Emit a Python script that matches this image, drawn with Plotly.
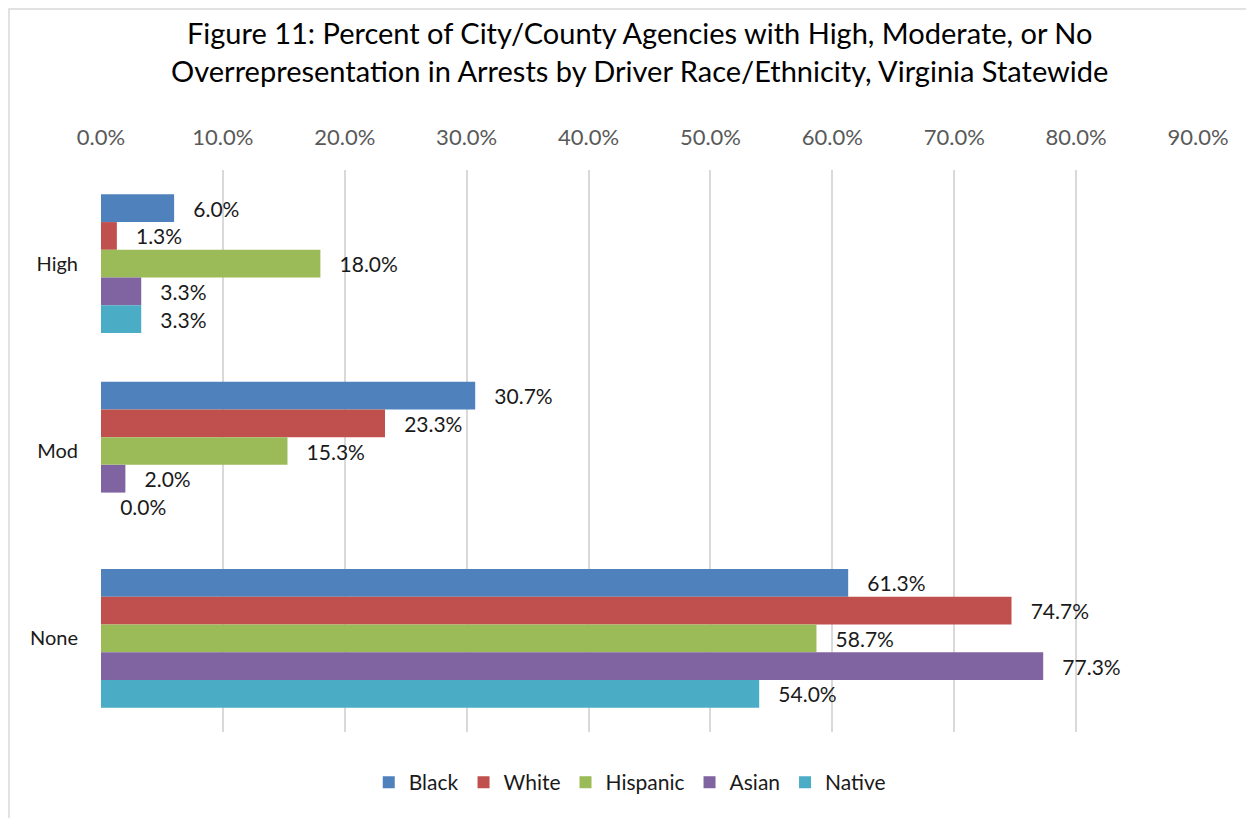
import plotly.graph_objects as go

levels = ["High", "Mod", "None"]
races = {
    "Black": ([6.0, 30.7, 61.3], "#4F81BD"),
    "White": ([1.3, 23.3, 74.7], "#C0504D"),
    "Hispanic": ([18.0, 15.3, 58.7], "#9BBB59"),
    "Asian": ([3.3, 2.0, 77.3], "#8064A2"),
    "Native": ([3.3, 0.0, 54.0], "#4BACC6"),
}

FONT = "Lato, 'Open Sans', sans-serif"

fig = go.Figure()
for name, (vals, color) in races.items():
    fig.add_trace(go.Bar(
        y=levels,
        x=vals,
        orientation="h",
        name=name,
        marker=dict(color=color, line=dict(width=0)),
        text=["\u00a0\u00a0\u00a0" + f"{v:.1f}%" for v in vals],
        textposition="outside",
        textfont=dict(size=21, color="#1a1a1a", family=FONT),
        cliponaxis=False,
    ))

fig.update_layout(
    barmode="group",
    bargap=0.26,
    bargroupgap=0,
    width=1246,
    height=810,
    autosize=False,
    margin=dict(l=93, r=56, t=162, b=86, autoexpand=False),
    paper_bgcolor="white",
    plot_bgcolor="white",
    font=dict(family=FONT, color="#1a1a1a"),
    title=dict(
        text="Figure 11: Percent of City/County Agencies with High, Moderate, or No<br>"
             "Overrepresentation in Arrests by Driver Race/Ethnicity, Virginia Statewide",
        x=0.507, xanchor="center", xref="container",
        y=0.955, yanchor="middle", yref="container",
        font=dict(size=29, color="#000000", family=FONT),
    ),
    legend=dict(
        orientation="h",
        x=0.482, xanchor="center",
        y=-0.09, yanchor="middle",
        font=dict(size=21, color="#1a1a1a", family=FONT),
        traceorder="normal",
    ),
    showlegend=True,
    shapes=[dict(
        type="rect", xref="paper", yref="paper",
        x0=-92 / 1097, x1=1.2, y0=-0.4, y1=1 + 161 / 562,
        line=dict(color="#d9d9d9", width=1.5),
        fillcolor="rgba(0,0,0,0)", layer="below",
    )],
)

fig.update_xaxes(
    side="top",
    range=[0, 90],
    dtick=10,
    ticksuffix="%",
    tickformat=".1f",
    tickangle=0,
    showgrid=True,
    gridcolor="#d9d9d9",
    gridwidth=2,
    zeroline=False,
    showline=False,
    ticklabelstandoff=20,
    tickfont=dict(size=22, color="#595959", family=FONT),
)
fig.update_yaxes(
    autorange="reversed",
    showgrid=False,
    showline=False,
    ticklabelstandoff=22,
    tickfont=dict(size=20, color="#1a1a1a", family=FONT),
)

fig.write_html("out.html")
